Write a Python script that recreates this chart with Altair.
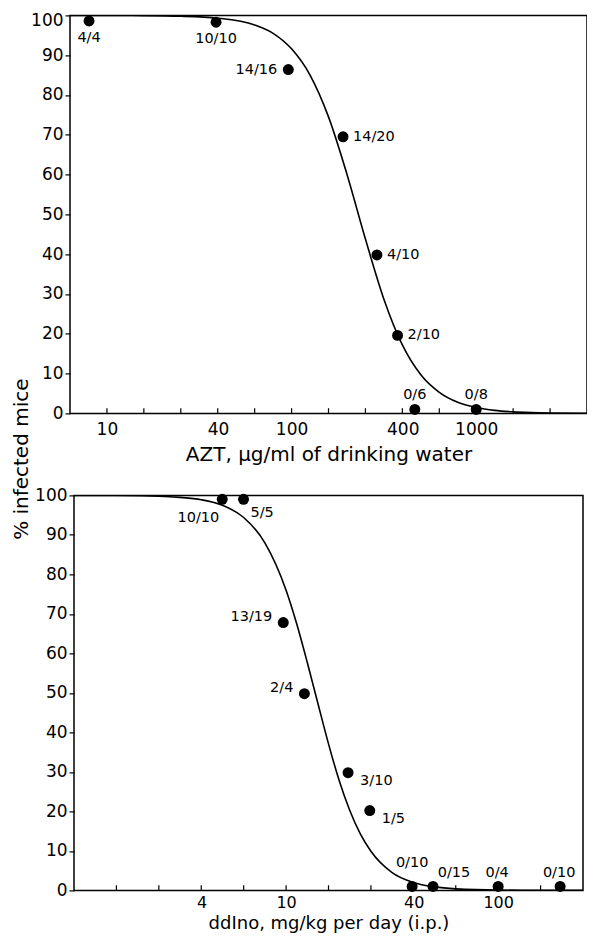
import altair as alt
import pandas as pd

FONT = "DejaVu Sans"

# ---- AZT panel (top) ----
azt_dose = [8, 39, 96, 190, 290, 375, 465, 1000]
azt_pct = [98.6, 98.3, 86.4, 69.5, 39.8, 19.6, 1.0, 1.0]
azt_labels = ["4/4", "10/10", "14/16", "14/20", "4/10", "2/10", "0/6", "0/8"]
azt_curve_dose = [6.31, 10, 15.85, 25.12, 39.81, 63.1, 79.43, 100, 125.9, 158.5, 199.5,
                  251.2, 316.2, 398.1, 501.2, 631.0, 794.3, 1000, 1259, 1585, 1995, 2512, 3981]
azt_curve_pct = [100, 99.99, 99.95, 99.8, 99.3, 97.6, 95.5, 91.6, 85.0, 74.5, 60.1,
                 43.8, 28.7, 17.2, 9.7, 5.3, 2.8, 1.5, 0.76, 0.39, 0.2, 0.1, 0.03]
azt_ticks = [10, 15.85, 25.12, 39.81, 63.1, 100, 158.5, 251.2, 398.1, 631, 1000, 1585, 2512]
azt_tick_labels = [10, 40, 100, 400, 1000]

# ---- ddIno panel (bottom) ----
ddino_dose = [5.0, 6.3, 9.7, 12.2, 19.6, 24.8, 39.3, 49.3, 100, 196]
ddino_pct = [99, 99, 67.8, 49.8, 29.8, 20.2, 1, 1, 1, 1]
ddino_labels = ["10/10", "5/5", "13/19", "2/4", "3/10", "1/5", "0/10", "0/15", "0/4", "0/10"]
ddino_curve_dose = [1, 1.585, 2.512, 3.162, 3.981, 5.012, 6.31, 7.943, 10, 11.22, 12.59,
                    14.13, 15.85, 17.78, 19.95, 22.39, 25.12, 31.62, 39.81, 50.12, 63.1, 100, 251.2]
ddino_curve_pct = [99.99, 99.96, 99.8, 99.5, 98.9, 97.5, 94.4, 88.0, 76.0, 67.5, 57.7,
                   47.3, 37.1, 27.9, 20.3, 14.3, 9.9, 4.5, 2.0, 0.88, 0.38, 0.07, 0.0]
ddino_ticks = [1.585, 2.512, 3.981, 6.31, 10, 15.85, 25.12, 39.81, 63.1, 100, 158.5]
ddino_tick_labels = [4, 10, 40, 100]

Y_VALUES = list(range(0, 101, 10))


def y_enc(is_top):
    ax = dict(values=Y_VALUES, tickSize=5, labelPadding=2, domain=False,
              grid=False, labelFontSize=17, tickColor="black", labelColor="black",
              labelOverlap=False, tickWidth=1.2)
    if is_top:
        ax.update(title="% infected mice", titleX=-48.5, titleY=443.3, titleAngle=270,
                  titleBaseline="middle", titleAlign="center", titleFontSize=20,
                  titleFontWeight="normal", titleColor="black",
                  labelOffset={"condition": {"test": "datum.value == 100", "value": 4.7},
                               "value": 0})
    else:
        ax.update(title=None)
    return alt.Y("pct:Q", scale=alt.Scale(domain=[0, 100], nice=False, zero=False),
                 axis=alt.Axis(**ax))


def x_enc(domain, label_values, title, label_pad, title_pad, label_size, title_size):
    return alt.X("dose:Q",
                 scale=alt.Scale(type="log", domain=domain, nice=False),
                 axis=alt.Axis(values=label_values, format="d", ticks=False,
                               labelPadding=label_pad, labelOverlap=False, labelFlush=False,
                               domain=False, grid=False, labelFontSize=label_size,
                               labelColor="black", title=title, titlePadding=title_pad,
                               titleFontSize=title_size, titleFontWeight="normal",
                               titleColor="black"))


def panel(doses, pcts, labels, cdose, cpct, ticks, tick_labels, domain, title, is_top,
          label_groups, w, h, label_pad, title_pad, label_size, title_size):
    pts = pd.DataFrame({"dose": doses, "pct": pcts, "label": labels,
                        "i": list(range(len(doses)))})
    curve = pd.DataFrame({"dose": cdose, "pct": cpct})
    tks = pd.DataFrame({"dose": ticks})
    xe = x_enc(domain, tick_labels, title, label_pad, title_pad, label_size, title_size)
    ye = y_enc(is_top)
    line = alt.Chart(curve).mark_line(color="black", strokeWidth=1.6,
                                      interpolate="monotone", clip=True).encode(x=xe, y=ye)
    dots = alt.Chart(pts).mark_point(filled=True, shape="circle", size=120, color="black",
                                     opacity=1).encode(x=xe, y=ye)
    # short inward tick marks along the bottom axis
    tick_layer = alt.Chart(tks).transform_calculate(
        pct="0", top="1.3"
    ).mark_rule(color="black", strokeWidth=1.2).encode(x=xe, y=ye, y2="top:Q")
    layers = [line, dots, tick_layer]
    for idx, align, dx, dy in label_groups:
        layers.append(
            alt.Chart(pts).transform_filter(
                alt.FieldOneOfPredicate(field="i", oneOf=idx)
            ).mark_text(align=align, baseline="middle", dx=dx, dy=dy, fontSize=14.5,
                        font=FONT, color="black").encode(x=xe, y=ye, text="label:N")
        )
    return alt.layer(*layers).properties(width=w, height=h)


top = panel(azt_dose, azt_pct, azt_labels, azt_curve_dose, azt_curve_pct, azt_ticks,
            azt_tick_labels, [6.3096, 3981.07], "AZT, μg/ml of drinking water", True,
            [([0, 1], "center", 0, 17), ([2], "right", -11, 0), ([3, 4, 5], "left", 10, 0),
             ([6, 7], "center", 0, -14)],
            517, 398, 8, 7, 17, 20)

bottom = panel(ddino_dose, ddino_pct, ddino_labels, ddino_curve_dose, ddino_curve_pct,
               ddino_ticks, ddino_tick_labels, [1, 251.19], "ddIno, mg/kg per day (i.p.)", False,
               [([0], "right", -3, 19), ([1], "left", 7, 14), ([2, 3], "right", -11, -6),
                ([4, 5], "left", 12, 8), ([6], "center", 0, -23), ([7], "center", 21, -13),
                ([8, 9], "center", -1, -13)],
               509, 395, 4, 4, 16, 18)

chart = alt.vconcat(top, bottom, spacing=82, bounds="flush", center=True).properties(
    padding={"left": 2, "top": 1.4, "right": -1, "bottom": 2}
).configure(font=FONT, background="white").configure_view(
    stroke="black", strokeWidth=1.5
).configure_axis(labelFont=FONT, titleFont=FONT)

chart.save("out.html", embed_options={"renderer": "svg", "actions": False})
